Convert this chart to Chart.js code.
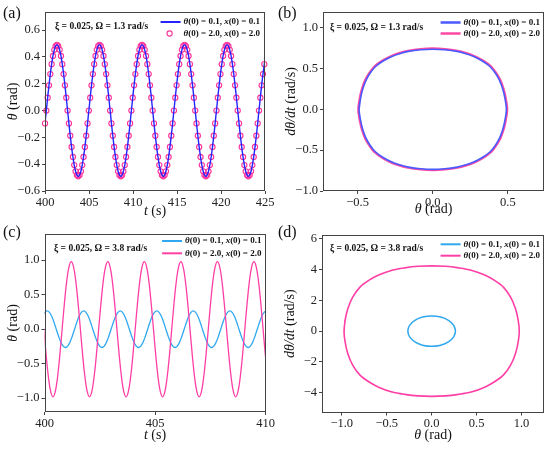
<!DOCTYPE html>
<html><head><meta charset="utf-8">
<script src="https://cdn.jsdelivr.net/npm/chart.js@4.4.1/dist/chart.umd.min.js"></script>
<style>
html,body{margin:0;padding:0;background:#fff;}
#wrap{position:relative;width:550px;height:449px;overflow:hidden;}
canvas{position:absolute;}
</style></head><body>
<div id="wrap">
<canvas id="ca" width="275" height="225" style="left:0;top:0"></canvas>
<canvas id="cb" width="275" height="225" style="left:275px;top:0"></canvas>
<canvas id="cc" width="275" height="224" style="left:0;top:225px"></canvas>
<canvas id="cd" width="275" height="224" style="left:275px;top:225px"></canvas>
</div>
<script>
// ---------- Panel (a): theta vs t, Omega = 1.3 rad/s ----------
const xTicksA = [400, 405, 410, 415, 420, 425];
const yTicksA = [-0.6, -0.4, -0.2, 0, 0.2, 0.4, 0.6];
const tA_circ0 = 400, tA_circStep = 0.15104;
const thetaA_circ = [-0.096,
 0,0.096,0.188,0.272,0.346,0.407,0.453,0.481,0.490,0.481,0.453,0.407,0.346,0.272,0.188,0.096,0,-0.096,-0.188,-0.272,-0.346,-0.407,-0.453,-0.481,-0.490,-0.481,-0.453,-0.407,-0.346,-0.272,-0.188,-0.096,
 0,0.096,0.188,0.272,0.346,0.407,0.453,0.481,0.490,0.481,0.453,0.407,0.346,0.272,0.188,0.096,0,-0.096,-0.188,-0.272,-0.346,-0.407,-0.453,-0.481,-0.490,-0.481,-0.453,-0.407,-0.346,-0.272,-0.188,-0.096,
 0,0.096,0.188,0.272,0.346,0.407,0.453,0.481,0.490,0.481,0.453,0.407,0.346,0.272,0.188,0.096,0,-0.096,-0.188,-0.272,-0.346,-0.407,-0.453,-0.481,-0.490,-0.481,-0.453,-0.407,-0.346,-0.272,-0.188,-0.096,
 0,0.096,0.188,0.272,0.346,0.407,0.453,0.481,0.490,0.481,0.453,0.407,0.346,0.272,0.188,0.096,0,-0.096,-0.188,-0.272,-0.346,-0.407,-0.453,-0.481,-0.490,-0.481,-0.453,-0.407,-0.346,-0.272,-0.188,-0.096,
 0,0.096,0.188,0.272,0.346,0.407,0.453,0.481,0.490,0.481,0.453,0.407,0.346,0.272,0.188,0.096,0,-0.096,-0.188,-0.272,-0.346,-0.407,-0.453,-0.481,-0.490,-0.481,-0.453,-0.407,-0.346,-0.272,-0.188,-0.096,
 0,0.096,0.188,0.272,0.346];
const tA_line0 = 399.849, tA_lineStep = 0.30208;
const thetaA_line = [-0.188,
 0,0.188,0.346,0.453,0.490,0.453,0.346,0.188,0,-0.188,-0.346,-0.453,-0.490,-0.453,-0.346,-0.188,
 0,0.188,0.346,0.453,0.490,0.453,0.346,0.188,0,-0.188,-0.346,-0.453,-0.490,-0.453,-0.346,-0.188,
 0,0.188,0.346,0.453,0.490,0.453,0.346,0.188,0,-0.188,-0.346,-0.453,-0.490,-0.453,-0.346,-0.188,
 0,0.188,0.346,0.453,0.490,0.453,0.346,0.188,0,-0.188,-0.346,-0.453,-0.490,-0.453,-0.346,-0.188,
 0,0.188,0.346,0.453,0.490,0.453,0.346,0.188,0,-0.188,-0.346,-0.453,-0.490,-0.453,-0.346,-0.188,
 0,0.188,0.346,0.453];

// ---------- Panel (b): phase portrait, Omega = 1.3 rad/s ----------
const xTicksB = [-0.5, 0, 0.5];
const yTicksB = [-1, -0.5, 0, 0.5, 1];
const thetaB_blue = [-0.490,-0.479,-0.465,-0.444,-0.417,-0.382,-0.330,-0.272,-0.215,-0.162,-0.080,0,0.080,0.162,0.215,0.272,0.330,0.382,0.417,0.444,0.465,0.479,0.490,
 0.479,0.465,0.444,0.417,0.382,0.330,0.272,0.215,0.162,0.080,0,-0.080,-0.162,-0.215,-0.272,-0.330,-0.382,-0.417,-0.444,-0.465,-0.479,-0.490,-0.479];
const omegaB_blue = [0,0.146,0.25,0.354,0.44,0.52,0.59,0.646,0.683,0.708,0.728,0.735,0.728,0.708,0.683,0.646,0.59,0.52,0.44,0.354,0.25,0.146,0,
 -0.146,-0.25,-0.354,-0.44,-0.52,-0.59,-0.646,-0.683,-0.708,-0.728,-0.735,-0.728,-0.708,-0.683,-0.646,-0.59,-0.52,-0.44,-0.354,-0.25,-0.146,0,0.146];
const thetaB_pink = [-0.496,-0.485,-0.471,-0.450,-0.422,-0.387,-0.334,-0.275,-0.218,-0.164,-0.081,0,0.081,0.164,0.218,0.275,0.334,0.387,0.422,0.450,0.471,0.485,0.496,
 0.485,0.471,0.450,0.422,0.387,0.334,0.275,0.218,0.164,0.081,0,-0.081,-0.164,-0.218,-0.275,-0.334,-0.387,-0.422,-0.450,-0.471,-0.485,-0.496,-0.485];
const omegaB_pink = [0,0.148,0.253,0.358,0.445,0.527,0.598,0.654,0.692,0.717,0.737,0.745,0.737,0.717,0.692,0.654,0.598,0.527,0.445,0.358,0.253,0.148,0,
 -0.148,-0.253,-0.358,-0.445,-0.527,-0.598,-0.654,-0.692,-0.717,-0.737,-0.745,-0.737,-0.717,-0.692,-0.654,-0.598,-0.527,-0.445,-0.358,-0.253,-0.148,0,0.148];

// ---------- Panel (c): theta vs t, Omega = 3.8 rad/s ----------
const xTicksC = [400, 405, 410];
const yTicksC = [-1, -0.5, 0, 0.5, 1];
const tC_step = 0.10334;
const tC_blue0 = 399.913;
const thetaC_blue = [
 0.187,0.245,0.265,0.245,0.187,0.101,0,-0.101,-0.187,-0.245,-0.265,-0.245,-0.187,-0.101,0,0.101,
 0.187,0.245,0.265,0.245,0.187,0.101,0,-0.101,-0.187,-0.245,-0.265,-0.245,-0.187,-0.101,0,0.101,
 0.187,0.245,0.265,0.245,0.187,0.101,0,-0.101,-0.187,-0.245,-0.265,-0.245,-0.187,-0.101,0,0.101,
 0.187,0.245,0.265,0.245,0.187,0.101,0,-0.101,-0.187,-0.245,-0.265,-0.245,-0.187,-0.101,0,0.101,
 0.187,0.245,0.265,0.245,0.187,0.101,0,-0.101,-0.187,-0.245,-0.265,-0.245,-0.187,-0.101,0,0.101,
 0.187,0.245,0.265,0.245,0.187,0.101,0,-0.101,-0.187,-0.245,-0.265,-0.245,-0.187,-0.101,0,0.101,
 0.187,0.245,0.265];
const tC_pink0 = 399.867;
const thetaC_pink = [
 0.375,0,-0.375,-0.693,-0.905,-0.980,-0.905,-0.693,-0.375,0,0.375,0.693,0.905,0.980,0.905,0.693,
 0.375,0,-0.375,-0.693,-0.905,-0.980,-0.905,-0.693,-0.375,0,0.375,0.693,0.905,0.980,0.905,0.693,
 0.375,0,-0.375,-0.693,-0.905,-0.980,-0.905,-0.693,-0.375,0,0.375,0.693,0.905,0.980,0.905,0.693,
 0.375,0,-0.375,-0.693,-0.905,-0.980,-0.905,-0.693,-0.375,0,0.375,0.693,0.905,0.980,0.905,0.693,
 0.375,0,-0.375,-0.693,-0.905,-0.980,-0.905,-0.693,-0.375,0,0.375,0.693,0.905,0.980,0.905,0.693,
 0.375,0,-0.375,-0.693,-0.905,-0.980,-0.905,-0.693,-0.375,0,0.375,0.693,0.905,0.980,0.905,0.693,
 0.375,0,-0.375,-0.693];

// ---------- Panel (d): phase portrait, Omega = 3.8 rad/s ----------
const xTicksD = [-1, -0.5, 0, 0.5, 1];
const yTicksD = [-4, -2, 0, 2, 4, 6];
const thetaD_blue = [0.245,0.265,0.245,0.187,0.101,0,-0.101,-0.187,-0.245,-0.265,-0.245,-0.187,-0.101,0,0.101,0.187,0.245,0.265,0.245];
const omegaD_blue = [0.379,0,-0.379,-0.700,-0.915,-0.990,-0.915,-0.700,-0.379,0,0.379,0.700,0.915,0.990,0.915,0.700,0.379,0,-0.379];
const thetaD_pink = [-0.975,-0.963,-0.933,-0.880,-0.800,-0.700,-0.590,-0.440,-0.300,-0.150,0,0.150,0.300,0.440,0.590,0.700,0.800,0.880,0.933,0.963,0.975,
 0.963,0.933,0.880,0.800,0.700,0.590,0.440,0.300,0.150,0,-0.150,-0.300,-0.440,-0.590,-0.700,-0.800,-0.880,-0.933,-0.963,-0.975,-0.963];
const omegaD_pink = [0,0.7,1.45,2.2,2.85,3.3,3.65,3.97,4.12,4.22,4.25,4.22,4.12,3.97,3.65,3.3,2.85,2.2,1.45,0.7,0,
 -0.7,-1.45,-2.2,-2.85,-3.3,-3.65,-3.97,-4.12,-4.22,-4.25,-4.22,-4.12,-3.97,-3.65,-3.3,-2.85,-2.2,-1.45,-0.7,0,0.7];

// ---------- drawing helpers ----------
const FONTF = '"Liberation Serif","Times New Roman",serif';
function segFont(s, size, bold){ return (s.i?'italic ':'')+(bold?'bold ':'')+size+'px '+FONTF; }
function richWidth(ctx, segs, size, bold){ let w=0; for(const s of segs){ctx.font=segFont(s,size,bold); w+=ctx.measureText(s.t).width;} return w; }
function drawRich(ctx, segs, x, y, size, bold, align, rot){
  ctx.save(); ctx.translate(x,y); if(rot) ctx.rotate(rot);
  const w = richWidth(ctx, segs, size, bold);
  let cx = align==='center' ? -w/2 : (align==='right' ? -w : 0);
  ctx.textBaseline='middle'; ctx.textAlign='left'; ctx.fillStyle='#111';
  for(const s of segs){ ctx.font=segFont(s,size,bold); ctx.fillText(s.t,cx,0); cx+=ctx.measureText(s.t).width; }
  ctx.restore(); return w;
}
function fmt(v, dec){ const s = Math.abs(v)<1e-9 ? (0).toFixed(dec) : Number(v).toFixed(dec); return s.replace('-', '\u2212'); }
const series = (vals, t0, dt) => vals.map((v,i)=>({x: t0 + i*dt, y: v}));
const loop = (xs, ys) => xs.map((v,i)=>({x: v, y: ys[i]}));

const decoPlugin = {
  id: 'deco',
  afterDraw(chart, args, o){
    const ctx = chart.ctx, a = chart.chartArea;
    ctx.save(); ctx.strokeStyle='#444'; ctx.lineWidth=1;
    const L=Math.round(a.left)+0.5, T=Math.round(a.top)+0.5, R=Math.round(a.right)-0.5, B=Math.round(a.bottom)-0.5;
    ctx.strokeRect(L, T, R-L, B-T); ctx.restore();
    drawRich(ctx, [{t:o.panel}], o.panelX, o.panelY, 16, false, 'left');
    drawRich(ctx, o.note, o.noteX, o.noteY, 9.5, true, 'left');
    for(const it of o.legend){
      const w = richWidth(ctx, it.segs, 9, true);
      const sx = o.legendRight - w;
      drawRich(ctx, it.segs, sx, it.y, 9, true, 'left');
      ctx.save(); ctx.strokeStyle = it.color;
      if(it.kind==='circle'){ ctx.lineWidth=1.1; ctx.beginPath(); ctx.arc(sx-14, it.y, 2.6, 0, 2*Math.PI); ctx.stroke(); }
      else { ctx.lineWidth=it.lw; ctx.beginPath(); ctx.moveTo(sx-23, it.y); ctx.lineTo(sx-3, it.y); ctx.stroke(); }
      ctx.restore();
    }
    drawRich(ctx, o.xTitle, (a.left+a.right)/2, o.xTitleY, 14, false, 'center');
    drawRich(ctx, o.yTitle, o.yTitleX, (a.top+a.bottom)/2, 14, false, 'center', -Math.PI/2);
  }
};

function buildChart(id, W, H, area, xr, yr, xt, yt, xdec, ydec, datasets, deco){
  const tickFont = {family: FONTF, size: 12.5};
  return new Chart(document.getElementById(id), {
    type: 'scatter',
    data: {datasets},
    options: {
      responsive: false, animation: false, events: [],
      layout: {padding: {left: 0, top: area.top, right: W - area.right, bottom: 0}},
      plugins: {legend: {display: false}, tooltip: {enabled: false}, deco},
      scales: {
        x: {type: 'linear', min: xr[0], max: xr[1],
          afterBuildTicks: s => { s.ticks = xt.map(v => ({value: v})); },
          afterFit: s => { s.height = H - area.bottom; s.paddingLeft = 0; s.paddingRight = 0; },
          ticks: {font: tickFont, color: '#222', padding: 1, maxRotation: 0, autoSkip: false, callback: v => fmt(v, xdec)},
          grid: {drawOnChartArea: false, drawTicks: true, tickLength: 3, color: '#444'},
          border: {display: false}},
        y: {type: 'linear', min: yr[0], max: yr[1],
          afterBuildTicks: s => { s.ticks = yt.map(v => ({value: v})); },
          afterFit: s => { s.width = area.left; s.paddingTop = 0; s.paddingBottom = 0; },
          ticks: {font: tickFont, color: '#222', padding: 2, autoSkip: false, callback: v => fmt(v, ydec)},
          grid: {drawOnChartArea: false, drawTicks: true, tickLength: 3, color: '#444'},
          border: {display: false}}
      }
    },
    plugins: [decoPlugin]
  });
}

const leg1 = [{t:'θ', i:1},{t:'(0) = 0.1, '},{t:'x', i:1},{t:'(0) = 0.1'}];
const leg2 = [{t:'θ', i:1},{t:'(0) = 2.0, '},{t:'x', i:1},{t:'(0) = 2.0'}];
const note13 = [{t:'ξ = 0.025, Ω = 1.3 rad/s'}];
const note38 = [{t:'ξ = 0.025, Ω = 3.8 rad/s'}];
const tTitle = [{t:'t', i:1},{t:' (s)'}];
const thTitle = [{t:'θ', i:1},{t:' (rad)'}];
const dTitle = [{t:'dθ/dt', i:1},{t:' (rad/s)'}];

const BLUE_A = '#2424ff', PINK_A = '#ff3399';
const BLUE_B = '#4a5aff', PINK_B = '#ff4aa5';
const BLUE_C = '#30a8f0', PINK_C = '#ff3fa6';

// (a)
buildChart('ca', 275, 225, {left:45, right:265, top:12, bottom:191}, [400,425], [-0.6,0.735], xTicksA, yTicksA, 0, 1, [
  {data: series(thetaA_line, tA_line0, tA_lineStep), showLine: true, borderColor: BLUE_A, borderWidth: 1.4, pointRadius: 0, tension: 0.4, clip: 0, order: 1},
  {data: series(thetaA_circ, tA_circ0, tA_circStep), showLine: false, pointRadius: 2.6, pointStyle: 'circle', pointBorderColor: PINK_A, pointBackgroundColor: 'rgba(0,0,0,0)', pointBorderWidth: 1.1, clip: 3, order: 2}
], {panel:'(a)', panelX:3, panelY:14, note:note13, noteX:55, noteY:27, legendRight:260,
    legend:[{segs:leg1, y:22, color:BLUE_A, kind:'line', lw:2},{segs:leg2, y:33.5, color:PINK_A, kind:'circle'}],
    xTitle:tTitle, xTitleY:211, yTitle:thTitle, yTitleX:13});

// (b)
buildChart('cb', 275, 225, {left:48, right:269, top:12, bottom:191}, [-0.73,0.74], [-1.0,1.19], xTicksB, yTicksB, 1, 1, [
  {data: loop(thetaB_blue, omegaB_blue), showLine: true, borderColor: BLUE_B, borderWidth: 1.6, pointRadius: 0, tension: 0.3, order: 1},
  {data: loop(thetaB_pink, omegaB_pink), showLine: true, borderColor: PINK_B, borderWidth: 2, pointRadius: 0, tension: 0.3, order: 2}
], {panel:'(b)', panelX:3, panelY:14, note:note13, noteX:55, noteY:27.7, legendRight:265,
    legend:[{segs:leg1, y:22.5, color:BLUE_B, kind:'line', lw:2.5},{segs:leg2, y:33.5, color:PINK_B, kind:'line', lw:2.5}],
    xTitle:thTitle, xTitleY:209.5, yTitle:dTitle, yTitleX:16});

// (c)
buildChart('cc', 275, 224, {left:44.5, right:265.5, top:9, bottom:187}, [400,410], [-1.2,1.38], xTicksC, yTicksC, 0, 1, [
  {data: series(thetaC_pink, tC_pink0, tC_step), showLine: true, borderColor: PINK_C, borderWidth: 1.3, pointRadius: 0, tension: 0.4, clip: 0, order: 1},
  {data: series(thetaC_blue, tC_blue0, tC_step), showLine: true, borderColor: BLUE_C, borderWidth: 1.3, pointRadius: 0, tension: 0.4, clip: 0, order: 2}
], {panel:'(c)', panelX:3, panelY:8, note:note38, noteX:54, noteY:23.3, legendRight:261.5,
    legend:[{segs:leg1, y:16, color:BLUE_C, kind:'line', lw:2},{segs:leg2, y:28.3, color:PINK_C, kind:'line', lw:2}],
    xTitle:tTitle, xTitleY:210.7, yTitle:thTitle, yTitleX:13});

// (d)
buildChart('cd', 275, 224, {left:47, right:269, top:10, bottom:187.5}, [-1.22,1.25], [-5.3,6.26], xTicksD, yTicksD, 1, 0, [
  {data: loop(thetaD_blue, omegaD_blue), showLine: true, borderColor: BLUE_C, borderWidth: 1.5, pointRadius: 0, tension: 0.4, order: 1},
  {data: loop(thetaD_pink, omegaD_pink), showLine: true, borderColor: PINK_C, borderWidth: 1.6, pointRadius: 0, tension: 0.3, order: 2}
], {panel:'(d)', panelX:3, panelY:8, note:note38, noteX:55, noteY:24, legendRight:265,
    legend:[{segs:leg1, y:19.3, color:BLUE_C, kind:'line', lw:2},{segs:leg2, y:30.7, color:PINK_C, kind:'line', lw:2}],
    xTitle:thTitle, xTitleY:210.7, yTitle:dTitle, yTitleX:15});
</script>
</body></html>
